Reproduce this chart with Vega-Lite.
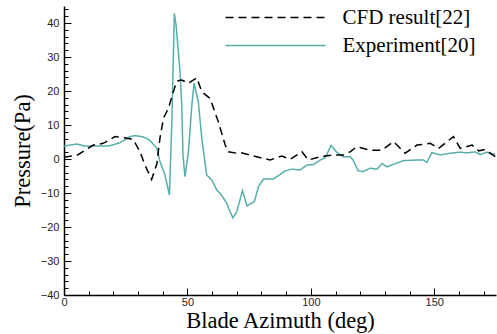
{
  "$schema": "https://vega.github.io/schema/vega-lite/v6.json",
  "width": 432,
  "height": 289,
  "autosize": {"type": "none"},
  "padding": {"left": 64, "top": 6, "right": 1, "bottom": 39},
  "background": "white",
  "config": {
    "view": {"stroke": null},
    "axis": {"grid": false, "domainColor": "#000", "domainWidth": 1.5, "tickColor": "#000", "tickWidth": 1, "labelFont": "Liberation Sans", "labelFontSize": 11, "labelColor": "#222", "titleFont": "Liberation Serif", "titleFontSize": 22.5, "titleFontWeight": "normal", "titleColor": "#000"}
  },
  "data": {"values": [
    {"series": "Experiment[20]", "az": 0, "p": 3.8},
    {"series": "Experiment[20]", "az": 2.4, "p": 4.1},
    {"series": "Experiment[20]", "az": 5.3, "p": 4.4},
    {"series": "Experiment[20]", "az": 8.5, "p": 3.8},
    {"series": "Experiment[20]", "az": 12.6, "p": 3.8},
    {"series": "Experiment[20]", "az": 15.8, "p": 3.8},
    {"series": "Experiment[20]", "az": 18.6, "p": 3.9},
    {"series": "Experiment[20]", "az": 22.7, "p": 4.8},
    {"series": "Experiment[20]", "az": 26.8, "p": 6.6},
    {"series": "Experiment[20]", "az": 28.8, "p": 6.9},
    {"series": "Experiment[20]", "az": 32.0, "p": 6.5},
    {"series": "Experiment[20]", "az": 33.6, "p": 6.0},
    {"series": "Experiment[20]", "az": 34.9, "p": 5.4},
    {"series": "Experiment[20]", "az": 37.6, "p": 3.2},
    {"series": "Experiment[20]", "az": 38.9, "p": -0.8},
    {"series": "Experiment[20]", "az": 40.9, "p": -4.7},
    {"series": "Experiment[20]", "az": 42.7, "p": -10.6},
    {"series": "Experiment[20]", "az": 43.7, "p": 11},
    {"series": "Experiment[20]", "az": 44.7, "p": 42.8},
    {"series": "Experiment[20]", "az": 45.4, "p": 39.4},
    {"series": "Experiment[20]", "az": 47.0, "p": 25.7},
    {"series": "Experiment[20]", "az": 47.7, "p": 15.9},
    {"series": "Experiment[20]", "az": 48.2, "p": 1.2},
    {"series": "Experiment[20]", "az": 49.0, "p": -5.2},
    {"series": "Experiment[20]", "az": 50.4, "p": 2.1},
    {"series": "Experiment[20]", "az": 51.8, "p": 15.9},
    {"series": "Experiment[20]", "az": 52.7, "p": 22.3},
    {"series": "Experiment[20]", "az": 54.4, "p": 16.9},
    {"series": "Experiment[20]", "az": 55.8, "p": 6.2},
    {"series": "Experiment[20]", "az": 57.8, "p": -4.7},
    {"series": "Experiment[20]", "az": 59.9, "p": -6.2},
    {"series": "Experiment[20]", "az": 61.9, "p": -9.1},
    {"series": "Experiment[20]", "az": 63.2, "p": -10.1},
    {"series": "Experiment[20]", "az": 64.6, "p": -11.5},
    {"series": "Experiment[20]", "az": 65.9, "p": -13},
    {"series": "Experiment[20]", "az": 67.3, "p": -15.5},
    {"series": "Experiment[20]", "az": 68.4, "p": -17.3},
    {"series": "Experiment[20]", "az": 70.0, "p": -15.5},
    {"series": "Experiment[20]", "az": 72.3, "p": -9.3},
    {"series": "Experiment[20]", "az": 74.1, "p": -13.8},
    {"series": "Experiment[20]", "az": 77.1, "p": -12.5},
    {"series": "Experiment[20]", "az": 78.8, "p": -8.1},
    {"series": "Experiment[20]", "az": 80.8, "p": -5.9},
    {"series": "Experiment[20]", "az": 84.8, "p": -5.9},
    {"series": "Experiment[20]", "az": 89.6, "p": -3.5},
    {"series": "Experiment[20]", "az": 92.3, "p": -3},
    {"series": "Experiment[20]", "az": 95.7, "p": -3.2},
    {"series": "Experiment[20]", "az": 98.4, "p": -1.8},
    {"series": "Experiment[20]", "az": 101.1, "p": -1.6},
    {"series": "Experiment[20]", "az": 103.8, "p": -0.3},
    {"series": "Experiment[20]", "az": 105.8, "p": 0.4},
    {"series": "Experiment[20]", "az": 108.2, "p": 4.0},
    {"series": "Experiment[20]", "az": 110.5, "p": 2.0},
    {"series": "Experiment[20]", "az": 113.2, "p": 0.6},
    {"series": "Experiment[20]", "az": 115.9, "p": 0.7},
    {"series": "Experiment[20]", "az": 117.1, "p": -0.3},
    {"series": "Experiment[20]", "az": 119.2, "p": -3.5},
    {"series": "Experiment[20]", "az": 121.2, "p": -3.7},
    {"series": "Experiment[20]", "az": 124.0, "p": -2.7},
    {"series": "Experiment[20]", "az": 126.8, "p": -3},
    {"series": "Experiment[20]", "az": 128.8, "p": -1.3},
    {"series": "Experiment[20]", "az": 130.8, "p": -2.3},
    {"series": "Experiment[20]", "az": 137.4, "p": -0.5},
    {"series": "Experiment[20]", "az": 143.0, "p": -0.3},
    {"series": "Experiment[20]", "az": 145.6, "p": -0.3},
    {"series": "Experiment[20]", "az": 147.0, "p": -1},
    {"series": "Experiment[20]", "az": 149.0, "p": 1.9},
    {"series": "Experiment[20]", "az": 152.4, "p": 1.2},
    {"series": "Experiment[20]", "az": 156.5, "p": 1.7},
    {"series": "Experiment[20]", "az": 160.5, "p": 2.0},
    {"series": "Experiment[20]", "az": 163.2, "p": 1.8},
    {"series": "Experiment[20]", "az": 166.6, "p": 2.1},
    {"series": "Experiment[20]", "az": 168.6, "p": 1.3},
    {"series": "Experiment[20]", "az": 171.3, "p": 2.0},
    {"series": "Experiment[20]", "az": 173.4, "p": 1.3},
    {"series": "Experiment[20]", "az": 174.7, "p": 1.6},
    {"series": "CFD result[22]", "az": 0, "p": 0.5},
    {"series": "CFD result[22]", "az": 5.5, "p": 1.2},
    {"series": "CFD result[22]", "az": 11.9, "p": 4.1},
    {"series": "CFD result[22]", "az": 15.9, "p": 4.6},
    {"series": "CFD result[22]", "az": 20.7, "p": 6.6},
    {"series": "CFD result[22]", "az": 25.4, "p": 6.1},
    {"series": "CFD result[22]", "az": 28.0, "p": 5.8},
    {"series": "CFD result[22]", "az": 30.8, "p": 2.1},
    {"series": "CFD result[22]", "az": 32.8, "p": -1.8},
    {"series": "CFD result[22]", "az": 35.5, "p": -6.0},
    {"series": "CFD result[22]", "az": 37.6, "p": -1.5},
    {"series": "CFD result[22]", "az": 38.9, "p": 6.3},
    {"series": "CFD result[22]", "az": 40.3, "p": 12},
    {"series": "CFD result[22]", "az": 42.3, "p": 14.9},
    {"series": "CFD result[22]", "az": 44.3, "p": 19.8},
    {"series": "CFD result[22]", "az": 45.7, "p": 22.9},
    {"series": "CFD result[22]", "az": 47.7, "p": 23.2},
    {"series": "CFD result[22]", "az": 50.4, "p": 22.3},
    {"series": "CFD result[22]", "az": 53.8, "p": 23.9},
    {"series": "CFD result[22]", "az": 55.8, "p": 19.8},
    {"series": "CFD result[22]", "az": 59.2, "p": 17.8},
    {"series": "CFD result[22]", "az": 62.5, "p": 11},
    {"series": "CFD result[22]", "az": 65.3, "p": 4.1},
    {"series": "CFD result[22]", "az": 66.6, "p": 2.1},
    {"series": "CFD result[22]", "az": 70.0, "p": 1.7},
    {"series": "CFD result[22]", "az": 71.3, "p": 1.9},
    {"series": "CFD result[22]", "az": 76.7, "p": 0.9},
    {"series": "CFD result[22]", "az": 83.5, "p": -0.3},
    {"series": "CFD result[22]", "az": 88.2, "p": 0.9},
    {"series": "CFD result[22]", "az": 91.6, "p": -0.1},
    {"series": "CFD result[22]", "az": 96.4, "p": 2.1},
    {"series": "CFD result[22]", "az": 99.0, "p": -0.3},
    {"series": "CFD result[22]", "az": 103.8, "p": 0.7},
    {"series": "CFD result[22]", "az": 109.2, "p": 1.2},
    {"series": "CFD result[22]", "az": 113.2, "p": 1.2},
    {"series": "CFD result[22]", "az": 115.9, "p": 2.1},
    {"series": "CFD result[22]", "az": 118.6, "p": 3.6},
    {"series": "CFD result[22]", "az": 124.0, "p": 2.6},
    {"series": "CFD result[22]", "az": 128.8, "p": 2.6},
    {"series": "CFD result[22]", "az": 133.5, "p": 5.1},
    {"series": "CFD result[22]", "az": 138.2, "p": 1.7},
    {"series": "CFD result[22]", "az": 143.0, "p": 4.1},
    {"series": "CFD result[22]", "az": 148.4, "p": 4.6},
    {"series": "CFD result[22]", "az": 151.7, "p": 3.1},
    {"series": "CFD result[22]", "az": 157.8, "p": 6.6},
    {"series": "CFD result[22]", "az": 160.5, "p": 3.1},
    {"series": "CFD result[22]", "az": 165.3, "p": 4.1},
    {"series": "CFD result[22]", "az": 168.0, "p": 2.4},
    {"series": "CFD result[22]", "az": 170.7, "p": 2.8},
    {"series": "CFD result[22]", "az": 174.7, "p": 0.7}
  ]},
  "mark": {"type": "line", "strokeWidth": 1.5, "clip": true},
  "encoding": {
    "x": {"field": "az", "type": "quantitative", "title": "Blade Azimuth (deg)",
      "scale": {"domain": [0, 175], "nice": false, "zero": false},
      "axis": {"values": [0,10,20,30,40,50,60,70,80,90,100,110,120,130,140,150,160,170],
        "labelExpr": "datum.value % 50 === 0 ? datum.label : ''",
        "tickSize": {"condition": {"test": "datum.value % 50 === 0", "value": -7}, "value": -4},
        "labelPadding": 8, "titlePadding": 2, "labelFlush": false}},
    "y": {"field": "p", "type": "quantitative", "title": "Pressure(Pa)",
      "scale": {"domain": [-40, 45], "nice": false, "zero": false},
      "axis": {"values": [-40,-38,-36,-34,-32,-30,-28,-26,-24,-22,-20,-18,-16,-14,-12,-10,-8,-6,-4,-2,0,2,4,6,8,10,12,14,16,18,20,22,24,26,28,30,32,34,36,38,40,42,44],
        "labelExpr": "datum.value % 10 === 0 ? datum.label : ''",
        "tickSize": {"condition": {"test": "datum.value % 10 === 0", "value": -7}, "value": -4},
        "labelPadding": 12, "titlePadding": 6, "labelFlush": false}},
    "color": {"field": "series", "type": "nominal",
      "scale": {"domain": ["CFD result[22]", "Experiment[20]"], "range": ["#000000", "#56afab"]},
      "legend": {"orient": "none", "legendX": 201, "legendY": 1, "title": null, "symbolType": "M-50,0H50", "symbolSize": 4, "symbolStrokeWidth": 1.5, "labelFont": "Liberation Serif", "labelFontSize": 21, "labelColor": "#000", "labelOffset": 56.5, "padding": 0, "rowPadding": 6}},
    "strokeDash": {"field": "series", "type": "nominal",
      "scale": {"domain": ["CFD result[22]", "Experiment[20]"], "range": [[8, 5], [1, 0]]},
      "legend": {"orient": "none", "legendX": 201, "legendY": 1, "title": null, "symbolType": "M-50,0H50", "symbolSize": 4, "symbolStrokeWidth": 1.5, "labelFont": "Liberation Serif", "labelFontSize": 21, "labelColor": "#000", "labelOffset": 56.5, "padding": 0, "rowPadding": 6}}
  }
}
